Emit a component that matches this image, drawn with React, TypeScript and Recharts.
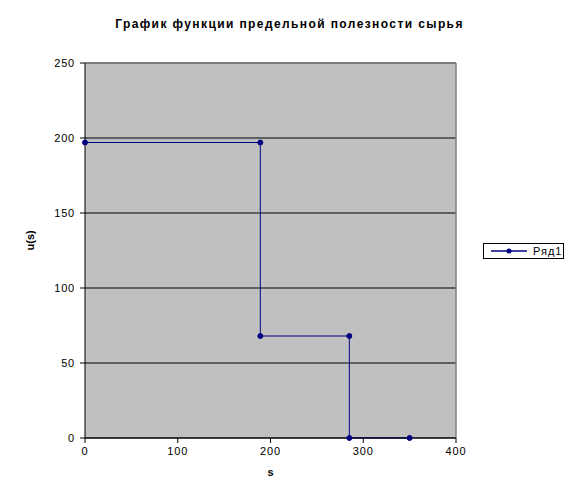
import {
  LineChart,
  Line,
  XAxis,
  YAxis,
  CartesianGrid,
  ReferenceLine,
} from 'recharts';

// s values and marginal utility u(s) — stepwise
const sValues = [0, 189, 189, 285, 285, 350];
const uValues = [197, 197, 68, 68, 0, 0];
const xTicks = [0, 100, 200, 300, 400];
const yTicks = [0, 50, 100, 150, 200, 250];
const seriesName = 'Ряд1';

const data = sValues.map((s, i) => ({ s, u: uValues[i] }));

const FONT = 'Arial, "Liberation Sans", sans-serif';
const NAVY = '#000080';

export default function App() {
  return (
    <div
      style={{
        position: 'absolute',
        left: 0,
        top: 0,
        width: 579,
        height: 498,
        background: '#fff',
        fontFamily: FONT,
      }}
    >
      <div
        style={{
          position: 'absolute',
          left: 0,
          width: 579,
          top: 17,
          textAlign: 'center',
          fontSize: 12,
          letterSpacing: 1.4,
          fontWeight: 'bold',
          color: '#000',
        }}
      >
        График функции предельной полезности сырья
      </div>
      <LineChart
        width={579}
        height={498}
        data={data}
        margin={{ top: 63, right: 123, left: 0, bottom: 0 }}
      >
        <CartesianGrid
          vertical={false}
          stroke="#000"
          strokeOpacity={1}
          fill="#C0C0C0"
          fillOpacity={1}
        />
        <ReferenceLine y={250} stroke="#808080" strokeWidth={1.5} />
        <ReferenceLine x={400} stroke="#808080" strokeWidth={1.5} />
        <XAxis
          dataKey="s"
          type="number"
          domain={[0, 400]}
          ticks={xTicks}
          height={60}
          stroke="#000"
          tickSize={5}
          tickMargin={4}
          tick={{ fill: '#000', fontSize: 11, fontFamily: FONT, letterSpacing: 0.8 }}
          label={{
            value: 's',
            position: 'insideBottom',
            offset: 22,
            fill: '#000',
            fontSize: 11,
            fontWeight: 'bold',
            fontFamily: FONT,
          }}
        />
        <YAxis
          type="number"
          domain={[0, 250]}
          ticks={yTicks}
          width={85}
          stroke="#000"
          tickSize={5}
          tickMargin={5}
          tick={{ fill: '#000', fontSize: 11, fontFamily: FONT, letterSpacing: 0.8 }}
          label={{
            value: 'u(s)',
            angle: -90,
            position: 'insideLeft',
            offset: 30,
            fill: '#000',
            fontSize: 11,
            fontWeight: 'bold',
            fontFamily: FONT,
          }}
        />
        <Line
          type="linear"
          dataKey="u"
          name={seriesName}
          stroke={NAVY}
          strokeWidth={1}
          dot={{ r: 2.5, fill: NAVY, stroke: NAVY, strokeWidth: 1 }}
          isAnimationActive={false}
        />
      </LineChart>
      <div
        style={{
          position: 'absolute',
          left: 483,
          top: 243,
          width: 79,
          height: 14,
          border: '1px solid #000',
          display: 'flex',
          alignItems: 'center',
          fontSize: 11,
          letterSpacing: 1,
        }}
      >
        <svg width={44} height={14} style={{ marginLeft: 5 }}>
          <line x1={2} y1={7} x2={38} y2={7} stroke={NAVY} strokeWidth={1.5} />
          <circle cx={20} cy={7} r={2.5} fill={NAVY} />
        </svg>
        <span>{seriesName}</span>
      </div>
    </div>
  );
}
